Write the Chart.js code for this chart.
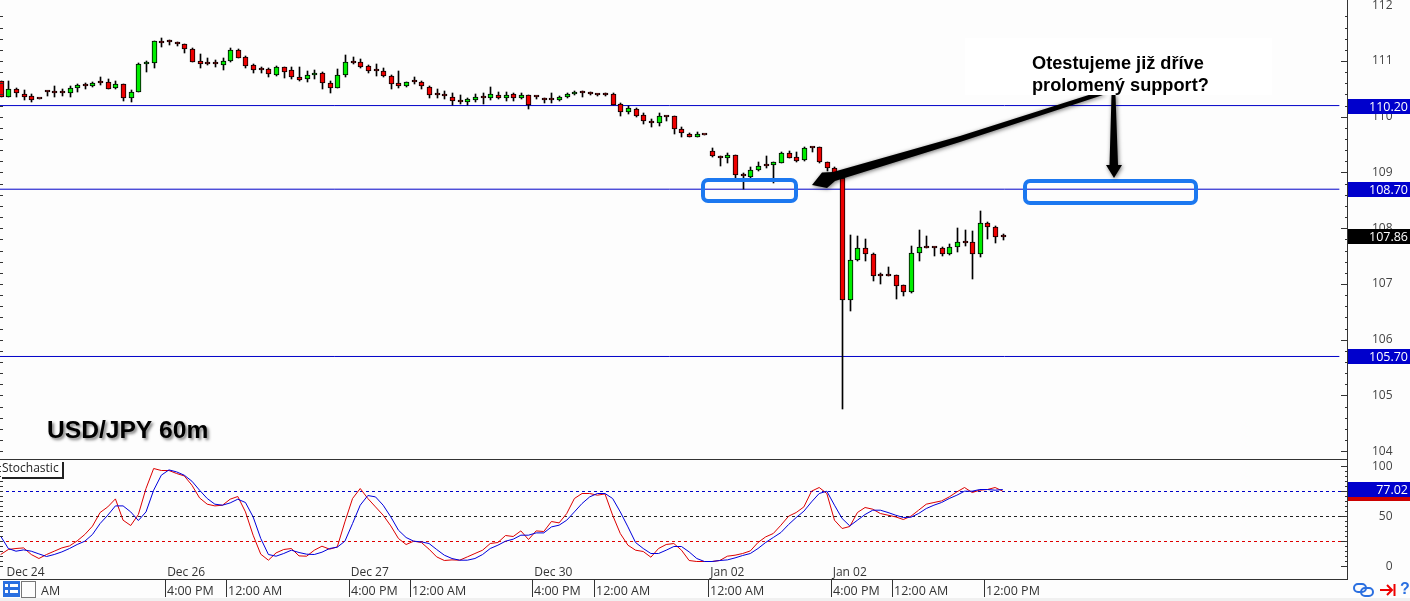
<!DOCTYPE html>
<html>
<head>
<meta charset="utf-8">
<title>USD/JPY 60m</title>
<script src="https://cdn.jsdelivr.net/npm/chart.js@4"></script>
<style>
html,body{margin:0;padding:0;background:#fdfdfd;overflow:hidden}
canvas{display:block}
</style>
</head>
<body>
<canvas id="myChart" width="1410" height="601"></canvas>
<script>
const opens = [110.635,110.348,110.491,110.401,110.366,110.324,110.443,110.431,110.425,110.419,110.509,110.563,110.557,110.611,110.617,110.509,110.581,110.330,110.437,110.940,110.958,111.334,111.352,111.310,111.298,111.209,110.993,110.958,110.952,110.934,110.993,111.191,111.065,110.922,110.850,110.850,110.754,110.886,110.832,110.706,110.671,110.742,110.778,110.599,110.509,110.742,
  110.976,110.976,110.904,110.826,110.814,110.725,110.599,110.545,110.623,110.629,110.539,110.390,110.378,110.360,110.264,110.258,110.306,110.342,110.330,110.396,110.342,110.402,110.342,110.384,110.354,110.324,110.300,110.306,110.348,110.402,110.432,110.414,110.396,110.396,110.402,110.222,110.079,110.144,110.025,109.929,109.881,110.007,110.007,109.774,109.696,109.642,109.678,
  109.391,109.290,109.254,109.307,108.943,108.925,109.038,109.122,109.128,109.176,109.343,109.272,109.218,109.445,109.451,109.194,109.074,108.900,106.706,107.424,107.639,107.532,107.155,107.155,107.155,106.975,106.850,107.549,107.657,107.657,107.639,107.544,107.657,107.747,107.747,107.532,108.100,108.016,107.852]
const highs = [110.635,110.641,110.509,110.479,110.401,110.324,110.467,110.551,110.491,110.551,110.581,110.599,110.617,110.712,110.671,110.641,110.587,110.479,110.958,111.005,111.358,111.406,111.376,111.334,111.304,111.227,111.125,111.047,111.017,111.047,111.227,111.215,111.089,110.946,110.898,110.868,110.910,110.898,110.892,110.892,110.820,110.832,110.796,110.641,110.850,111.107,
  111.065,111.030,110.928,110.940,110.868,110.748,110.820,110.629,110.707,110.647,110.551,110.491,110.461,110.420,110.384,110.330,110.402,110.420,110.527,110.438,110.438,110.426,110.420,110.390,110.366,110.342,110.420,110.378,110.420,110.455,110.455,110.438,110.414,110.420,110.420,110.240,110.192,110.162,110.061,109.959,110.061,110.019,110.013,109.810,109.714,109.720,109.678,
  109.433,109.296,109.343,109.307,108.985,109.092,109.182,109.296,109.182,109.361,109.385,109.361,109.451,109.451,109.451,109.194,109.104,108.950,107.878,107.860,107.806,107.549,107.191,107.310,107.155,106.981,107.681,107.968,107.860,107.669,107.657,107.717,108.004,107.968,107.950,108.309,108.106,108.040,107.896]
const lows = [110.348,110.348,110.360,110.300,110.270,110.312,110.372,110.360,110.372,110.360,110.449,110.503,110.539,110.569,110.491,110.497,110.288,110.270,110.437,110.808,110.880,111.257,111.286,111.269,111.149,110.976,110.880,110.934,110.898,110.838,110.987,111.047,110.880,110.778,110.790,110.718,110.736,110.700,110.671,110.635,110.629,110.677,110.503,110.431,110.509,110.718,
  110.946,110.880,110.790,110.737,110.719,110.503,110.521,110.539,110.587,110.503,110.342,110.342,110.324,110.210,110.228,110.210,110.270,110.234,110.306,110.318,110.288,110.288,110.318,110.145,110.312,110.252,110.252,110.276,110.336,110.390,110.360,110.396,110.372,110.366,110.204,110.019,110.055,110.001,109.875,109.822,109.840,109.929,109.696,109.642,109.642,109.630,109.666,
  109.272,109.122,109.176,108.895,108.698,108.907,109.026,109.086,108.817,109.164,109.254,109.194,109.212,109.373,109.176,109.032,108.925,104.758,106.521,107.418,107.418,107.059,107.005,107.149,106.730,106.790,106.844,107.418,107.651,107.502,107.502,107.514,107.579,107.687,107.095,107.490,107.806,107.741,107.789]
const closes = [110.348,110.491,110.419,110.360,110.306,110.312,110.437,110.425,110.419,110.509,110.563,110.557,110.599,110.605,110.503,110.581,110.330,110.437,110.940,110.982,111.352,111.328,111.346,111.304,111.209,110.987,110.952,110.952,110.946,110.993,111.191,111.059,110.904,110.844,110.844,110.760,110.886,110.808,110.706,110.665,110.742,110.778,110.611,110.509,110.742,110.976,
  110.970,110.898,110.826,110.820,110.725,110.593,110.545,110.617,110.617,110.545,110.384,110.384,110.372,110.276,110.258,110.312,110.348,110.336,110.402,110.342,110.396,110.342,110.384,110.210,110.348,110.294,110.294,110.348,110.402,110.438,110.426,110.408,110.390,110.390,110.216,110.079,110.150,110.019,109.929,109.881,110.007,110.001,109.774,109.702,109.642,109.684,109.666,
  109.290,109.254,109.307,108.949,108.937,109.038,109.110,109.116,109.182,109.343,109.266,109.212,109.433,109.439,109.194,109.074,108.967,106.706,107.424,107.639,107.532,107.137,107.149,107.149,106.969,106.850,107.549,107.657,107.651,107.651,107.544,107.657,107.747,107.741,107.532,108.088,108.016,107.836,107.846]

const stochK = [12,17,18,18.6,12,8,12,15.3,18.6,20.6,25.6,32,40.3,54,59.6,67.6,46.3,41,52,78,98,96,96,93,90.6,81.3,68.6,62.3,60.6,61.3,67.3,70,54.6,31.3,12.3,6.3,13.6,17,18,10.6,10.3,16.3,20.3,17.3,19.6,44.6,68,
  78,68,59.6,51.3,40.6,28,22,25.3,24,17.3,9.6,6,6.6,6.3,9.6,13,16.3,23,24,31,30,35.6,27,35.6,35,45,43.6,53,68,73,73,71.3,72.6,51.3,33,21.3,16.3,15,9.3,18,22,23,16.3,6,5,5,5,
  6,10.3,11.3,13,15.6,24,29.6,33,41.3,50.3,54,59.6,75.3,79,73,46.3,38,40,54,59,57.3,53,51.3,49.6,47,50.3,56.3,62.3,64,65.6,69.6,74.6,79,74,76.3,77,79,75.3]
const stochD = [30.3,18,15.3,16.6,15.3,12.6,10,12,14.6,18,22,25.3,32,43,51.3,60.6,60.6,54.6,46,54.6,76.3,91.3,96.6,94.6,91.3,85.3,76.3,68,62.3,61.3,63.6,67.3,64,49.6,28,12,10.3,13,16.3,14,12.3,12,14.3,18,19.3,25.3,43,
  61.3,71,69.6,61.3,49.6,36.3,29,25.3,24.6,23,17,11.3,8,6.3,6.3,8,12,18,21.3,25.3,27.3,31.3,31.3,33.6,33.6,39.6,41.3,46.3,54.6,63,69.6,73,73,68,54.6,39.6,24,18,13,13,16.3,20,20,14.6,8,5,5,
  6,6.6,8.6,11,13,18,24,29,34,42,49,55.3,64.6,73,75.3,61.3,48,40.6,46.3,52,56.3,56.3,54,51.3,49,49.3,53,58,61.3,64,68,71.3,75.3,75.3,77,77,76.3,77]

const supportLevels = [110.20, 108.70, 105.70]
const lastPrice = 107.86
const stochLevels = [75, 50, 25]
const stochLast = 77.02
const stochRedTag = 74

const dateTickIdx = [0.5, 21.5, 45.5, 69.5, 92.5, 108.5]
const dateTickLabels = ['Dec 24', 'Dec 26', 'Dec 27', 'Dec 30', 'Jan 02', 'Jan 02']
const timeTickIdx = [21.5, 29.5, 45.5, 53.5, 69.5, 77.5, 92.5, 108.5, 116.5, 128.5]
const timeTickLabels = ['4:00 PM', '12:00 AM', '4:00 PM', '12:00 AM', '4:00 PM', '12:00 AM', '12:00 AM', '4:00 PM', '12:00 AM', '12:00 PM']

const UP = '#00ee00'
const DOWN = '#ee0000'
const LEVEL = '#0000c8'
const FONT = '"Open Sans", sans-serif'
const BOLD = '"Liberation Sans", Arial, sans-serif'

const xMin = -0.088
const xMax = 176

function levelLine(val, yAxis, color, dash, xEnd) {
  return {
    type: 'line', xAxisID: 'x', yAxisID: yAxis, order: 5,
    data: [{x: xMin, y: val}, {x: xEnd, y: val}],
    borderColor: color, borderWidth: 1, borderDash: dash, pointRadius: 0
  }
}

// ticks.padding leaks into the vertical padding of the pane, drop it
function fitPane(s) {
  s.width = 63
  s.paddingTop = 0
  s.paddingBottom = 0
}

// labels sit flush right in the terminal, figure spaces do that with crossAlign near
function padLabel(v) {
  return String(v).padStart(3, '\u2007')
}

const idx = opens.map((o, i) => i)

const datasets = [
  {
    type: 'bar', label: 'bodies', yAxisID: 'y', order: 1, grouped: false,
    data: idx.map(i => ({x: i, y: [opens[i], closes[i]]})),
    backgroundColor: idx.map(i => closes[i] >= opens[i] ? UP : DOWN),
    borderColor: '#000', borderWidth: 1, borderSkipped: false,
    barThickness: 5, minBarLength: 2
  },
  {
    type: 'bar', label: 'wicks', yAxisID: 'y', order: 2, grouped: false,
    data: idx.map(i => ({x: i, y: [lows[i], highs[i]]})),
    backgroundColor: '#000', borderWidth: 0,
    barThickness: 1
  },
  {
    type: 'line', label: '%K', yAxisID: 'y2', order: 3,
    data: idx.map(i => ({x: i, y: stochK[i]})),
    borderColor: '#dd0000', borderWidth: 1, pointRadius: 0, tension: 0
  },
  {
    type: 'line', label: '%D', yAxisID: 'y2', order: 2,
    data: idx.map(i => ({x: i, y: stochD[i]})),
    borderColor: '#0000dd', borderWidth: 1, pointRadius: 0, tension: 0
  }
]
supportLevels.forEach(v => datasets.push(levelLine(v, 'y', LEVEL, [], 175)))
datasets.push(levelLine(stochLevels[0], 'y2', '#0000c8', [3, 3], xMax))
datasets.push(levelLine(stochLevels[1], 'y2', '#222222', [3, 3], xMax))
datasets.push(levelLine(stochLevels[2], 'y2', '#dd0000', [3, 3], xMax))

// pull the bars onto whole pixels, the terminal draws them hard edged
const snapBars = {
  id: 'snapBars',
  afterDatasetsUpdate(chart) {
    chart.data.datasets.forEach((d, n) => {
      const meta = chart.getDatasetMeta(n)
      if (meta.type !== 'bar') return
      meta.data.forEach(el => {
        el.x = Math.round(el.x) + 0.5
        el.y = Math.round(el.y)
        el.base = Math.round(el.base)
      })
    })
  }
}

function priceTag(ctx, yPix, text, bg) {
  ctx.fillStyle = bg
  ctx.fillRect(1348, Math.round(yPix) - 7, 62, 15)
  if (text) {
    ctx.fillStyle = '#fff'
    ctx.font = '12.5px ' + FONT
    ctx.textAlign = 'right'
    ctx.textBaseline = 'middle'
    ctx.fillText(text, 1408, Math.round(yPix) + 1)
  }
}

function arrow(ctx, pts) {
  ctx.save()
  ctx.shadowColor = 'rgba(0,0,0,0.55)'
  ctx.shadowBlur = 4
  ctx.shadowOffsetX = 1
  ctx.shadowOffsetY = 1
  ctx.fillStyle = '#000'
  ctx.beginPath()
  pts.forEach((p, i) => i ? ctx.lineTo(p[0], p[1]) : ctx.moveTo(p[0], p[1]))
  ctx.closePath()
  ctx.fill()
  ctx.restore()
}

function roundBox(ctx, x, y, w, h) {
  ctx.save()
  ctx.strokeStyle = '#1c78f0'
  ctx.lineWidth = 4
  ctx.beginPath()
  ctx.roundRect(x, y, w, h, 5)
  ctx.stroke()
  ctx.restore()
}

const terminal = {
  id: 'terminal',
  beforeDraw(chart) {
    const ctx = chart.ctx
    ctx.save()
    ctx.fillStyle = '#fdfdfd'
    ctx.fillRect(0, 0, 1410, 601)
    ctx.fillStyle = '#f0f0f0'
    ctx.fillRect(0, 598, 1410, 3)
    ctx.restore()
  },
  afterDraw(chart) {
    const ctx = chart.ctx
    const {x, y, y2} = chart.scales
    ctx.save()

    // small tick marks on both sides of the panes
    ctx.fillStyle = '#333'
    for (let v = 104; v <= 112; v += 0.2) {
      const py = Math.round(y.getPixelForValue(v))
      const major = Math.abs(v - Math.round(v)) < 0.01
      ctx.fillRect(major ? 1341 : 1345, py, major ? 6 : 2, 1)
      ctx.fillRect(0, py, 3, 1)
    }
    for (let v = 0; v <= 100; v += 5) {
      const py = Math.floor(y2.getPixelForValue(v))
      ctx.fillRect(v % 25 === 0 ? 1341 : 1345, py, v % 25 === 0 ? 6 : 2, 1)
      ctx.fillRect(0, py, 3, 1)
    }

    // pane borders
    ctx.fillStyle = '#333'
    ctx.fillRect(0, 459, 1347, 1)
    ctx.fillRect(0, 579, 1348, 1)

    // date labels inside the lower pane, time row under it
    ctx.font = '12px ' + FONT
    ctx.textAlign = 'left'
    ctx.textBaseline = 'middle'
    ctx.fillStyle = '#333'
    dateTickIdx.forEach((t, i) => ctx.fillText(dateTickLabels[i], x.getPixelForValue(t) + 2, 573))
    ctx.font = '12.5px ' + FONT
    ctx.fillText('AM', 41, 591)
    timeTickIdx.forEach((t, i) => {
      const px = Math.round(x.getPixelForValue(t))
      ctx.fillStyle = '#333'
      ctx.fillRect(px, 580, 1, 17)
      ctx.fillText(timeTickLabels[i], px + 2, 591)
    })

    // price tags
    priceTag(ctx, y.getPixelForValue(lastPrice), lastPrice.toFixed(2), '#000')
    supportLevels.forEach(v => priceTag(ctx, y.getPixelForValue(v), v.toFixed(2), '#0000cc'))
    priceTag(ctx, y2.getPixelForValue(stochRedTag), '', '#cc0000')
    priceTag(ctx, y2.getPixelForValue(stochLast), stochLast.toFixed(2), '#0000cc')

    // Stochastic caption
    ctx.fillStyle = '#222'
    ctx.fillRect(2, 462, 62, 17)
    ctx.fillStyle = '#fff'
    ctx.fillRect(1, 461, 61, 16)
    ctx.fillStyle = '#222'
    ctx.font = '12px ' + FONT
    ctx.textAlign = 'left'
    ctx.fillText('Stochastic', 2, 469)

    // annotations
    roundBox(ctx, 703, 180, 93, 21)
    roundBox(ctx, 1025, 181, 171, 22)
    arrow(ctx, [[1095, 93], [960, 136], [833, 172], [822, 172.5], [812, 185], [827, 188], [835, 181], [960, 142], [1106, 94]])
    arrow(ctx, [[1111.5, 95], [1115.5, 95], [1118, 165], [1122, 165], [1114, 178], [1106, 165], [1109.5, 165]])

    ctx.fillStyle = '#fff'
    ctx.fillRect(965, 38, 307, 57)
    ctx.fillStyle = '#000'
    ctx.font = 'bold 18.2px ' + BOLD
    ctx.textBaseline = 'alphabetic'
    ctx.fillText('Otestujeme již dříve', 1032, 69)
    ctx.fillText('prolomený support?', 1032, 91)

    ctx.save()
    ctx.shadowColor = 'rgba(0,0,0,0.5)'
    ctx.shadowBlur = 3
    ctx.shadowOffsetX = 2
    ctx.shadowOffsetY = 2
    ctx.font = 'bold 24.6px ' + BOLD
    ctx.fillStyle = '#000'
    ctx.fillText('USD/JPY 60m', 47, 438)
    ctx.restore()

    // bottom left buttons
    ctx.fillStyle = '#2a6fe0'
    ctx.fillRect(3, 581, 17, 16)
    ctx.fillStyle = '#fff'
    ctx.fillRect(5, 584, 3, 3)
    ctx.fillRect(5, 590, 3, 3)
    ctx.fillRect(10, 584, 8, 3)
    ctx.fillRect(10, 590, 8, 3)
    ctx.fillStyle = '#fdfdfd'
    ctx.fillRect(21, 581, 14, 16)
    ctx.strokeStyle = '#777'
    ctx.lineWidth = 1
    ctx.strokeRect(21.5, 581.5, 14, 16)

    // bottom right icons
    ctx.strokeStyle = '#2a6fe0'
    ctx.lineWidth = 2
    ctx.beginPath()
    ctx.roundRect(1354, 584, 12, 8, 4)
    ctx.stroke()
    ctx.beginPath()
    ctx.roundRect(1361, 588, 12, 8, 4)
    ctx.stroke()
    ctx.strokeStyle = '#ee0000'
    ctx.beginPath()
    ctx.moveTo(1380, 590)
    ctx.lineTo(1392, 590)
    ctx.moveTo(1387, 585)
    ctx.lineTo(1392, 590)
    ctx.lineTo(1387, 595)
    ctx.moveTo(1394.5, 584)
    ctx.lineTo(1394.5, 596)
    ctx.stroke()
    ctx.fillStyle = '#2a6fe0'
    ctx.font = 'bold 16px ' + BOLD
    ctx.textBaseline = 'middle'
    ctx.fillText('?', 1400, 590)

    ctx.restore()
  }
}

const config = {
  data: {datasets},
  plugins: [snapBars, terminal],
  options: {
    responsive: false,
    animation: false,
    devicePixelRatio: 1,
    events: [],
    layout: {autoPadding: false, padding: {bottom: 22}},
    plugins: {legend: {display: false}, tooltip: {enabled: false}},
    scales: {
      x: {type: 'linear', min: xMin, max: xMax, offset: false, display: false, grid: {display: false, offset: false}},
      y: {
        type: 'linear', position: 'right', stack: 'panes', stackWeight: 460,
        min: 103.843, max: 112.094, offset: false,
        afterFit: fitPane,
        border: {color: '#333'},
        grid: {display: false, drawTicks: false},
        ticks: {stepSize: 1, includeBounds: false, padding: 25, crossAlign: 'near', color: '#444', font: {family: FONT, size: 12}, callback: padLabel}
      },
      y2: {
        type: 'linear', position: 'right', stack: 'panes', stackWeight: 119,
        min: -12.5, max: 106.5, offset: false,
        afterFit: fitPane,
        border: {color: '#333'},
        grid: {display: false, drawTicks: false},
        ticks: {stepSize: 25, includeBounds: false, padding: 25, crossAlign: 'near', color: '#444', font: {family: FONT, size: 12}, callback: padLabel}
      }
    }
  }
}

const myChart = new Chart(document.getElementById('myChart'), config)
</script>
</body>
</html>
